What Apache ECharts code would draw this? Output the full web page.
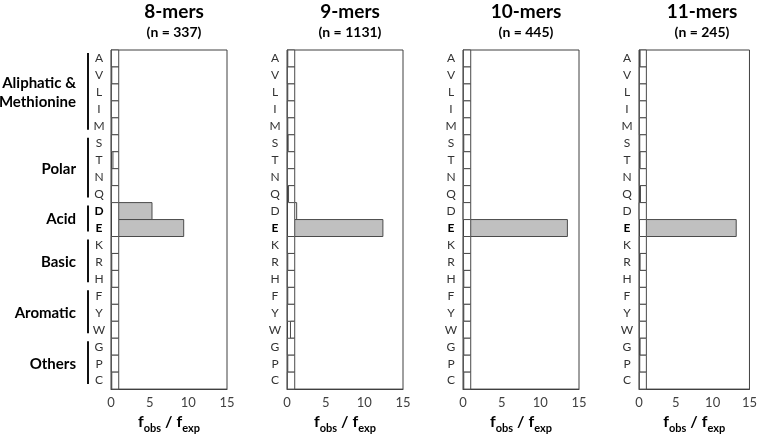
<!DOCTYPE html>
<html>
<head>
<meta charset="utf-8">
<script src="https://cdn.jsdelivr.net/npm/echarts@6/dist/echarts.min.js"></script>
<style>
html,body{margin:0;padding:0;background:#fff;}
#c{width:760px;height:439px;}
</style>
</head>
<body>
<div id="c"></div>
<script>
// ---- data ----
const residues = ['A','V','L','I','M','S','T','N','Q','D','E','K','R','H','F','Y','W','G','P','C'];
const panelTitles = ['8-mers','9-mers','10-mers','11-mers'];
const panelCounts = ['(n = 337)','(n = 1131)','(n = 445)','(n = 245)'];
const mer8  = [0.05,0.1,0.05,0.05,0.1,0.05,0.25,0.1,0.05,5.3,9.4,0.05,0.1,0.1,0.05,0.05,0.05,0.05,0.05,0.1];
const mer9  = [0.1,0.05,0.1,0.05,0.1,0.15,0.05,0.05,0.2,1.25,12.4,0.05,0.1,0.05,0.1,0.05,0.45,0.05,0.1,0.05];
const mer10 = [0.05,0.05,0.05,0.05,0.05,0.1,0.05,0.05,0.05,0.02,13.5,0.05,0.05,0.1,0.05,0.1,0.05,0.1,0.05,0.1];
const mer11 = [0.15,0.05,0.05,0.05,0.05,0.1,0.15,0.05,0.2,0.02,13.2,0.05,0.15,0.05,0.05,0.05,0.05,0.15,0.1,0.05];
const sig8  = ['D','E'];
const sig9  = ['E'];
const sig10 = ['E'];
const sig11 = ['E'];
const groups = [
  {label:['Aliphatic &','Methionine'], from:'A', to:'M'},
  {label:['Polar'], from:'S', to:'Q'},
  {label:['Acid'], from:'D', to:'E'},
  {label:['Basic'], from:'K', to:'H'},
  {label:['Aromatic'], from:'F', to:'W'},
  {label:['Others'], from:'G', to:'C'}
];
const xTicks = [0,5,10,15];
const baseline = 1;

const FONT = 'Lato, "Open Sans", sans-serif';
const panels = [mer8, mer9, mer10, mer11];
const sigs = [sig8, sig9, sig10, sig11];
const lefts = [111, 287, 463, 639];
const gridW = 116, gridTop = 50, gridH = 347;

const chart = echarts.init(document.getElementById('c'), null, {renderer:'canvas'});

const option = {
  backgroundColor:'#fff',
  animation:false,
  title:[],
  grid:[], xAxis:[], yAxis:[], series:[]
};

panels.forEach((vals, k) => {
  const cx = lefts[k] + gridW/2;
  option.title.push({text:panelTitles[k], left:cx, top:-3, textAlign:'center',
    textStyle:{fontFamily:FONT, fontSize:19, fontWeight:'bold', color:'#000'}});
  option.title.push({text:panelCounts[k], left:cx, top:20, textAlign:'center',
    textStyle:{fontFamily:FONT, fontSize:14, fontWeight:'bold', color:'#000'}});
  option.grid.push({left:lefts[k], top:gridTop, width:gridW, height:gridH,
    show:true, borderColor:'#404040', borderWidth:1, backgroundColor:'#fff'});
  option.xAxis.push({type:'value', gridIndex:k, min:xTicks[0], max:xTicks[xTicks.length-1], interval:5,
    splitLine:{show:false},
    axisLine:{show:true, lineStyle:{color:'#404040'}},
    axisTick:{show:false},
    axisLabel:{fontFamily:FONT, fontSize:13, color:'#404040', margin:7},
    name:'{f|f}{s|obs}{f| / f}{s|exp}', nameLocation:'middle', nameGap:20,
    nameTextStyle:{rich:{
      f:{fontFamily:FONT, fontSize:16, fontWeight:'bold', color:'#000', lineHeight:18, verticalAlign:'bottom'},
      s:{fontFamily:FONT, fontSize:11, fontWeight:'bold', color:'#000', lineHeight:10, verticalAlign:'bottom', padding:[0,0,-4,0]}
    }}
  });
  const sig = sigs[k];
  option.yAxis.push({type:'category', gridIndex:k, data:residues, inverse:true,
    axisLine:{show:true, lineStyle:{color:'#404040'}},
    axisTick:{show:false},
    axisLabel:{margin:12, align:'center', fontFamily:FONT, fontSize:12, color:'#333',
      formatter:(v)=> sig.indexOf(v) >= 0 ? '{b|'+v+'}' : v,
      rich:{b:{fontFamily:FONT, fontSize:12, fontWeight:'bold', color:'#000'}}}
  });
  option.series.push({
    type:'custom', xAxisIndex:k, yAxisIndex:k,
    dimensions:['res','ratio','sig'],
    encode:{x:1, y:0},
    data: vals.map((v,i)=>[i, v, sig.indexOf(residues[i])>=0 ? 1 : 0]),
    renderItem:(params, api)=>{
      const c = api.value(0), v = api.value(1);
      const lo = Math.min(v, baseline), hi = Math.max(v, baseline);
      const p0 = api.coord([lo, c]);
      const p1 = api.coord([hi, c]);
      const h = api.size([0,1])[1];
      return {type:'rect',
        shape:{x:p0[0], y:p0[1]-h/2, width:p1[0]-p0[0], height:h},
        style:{fill: api.value(2) ? '#c0c0c0' : '#fff', stroke:'#4a4a4a', lineWidth:1}};
    }
  });
});

chart.setOption(option);

// group labels and brackets, positioned from the first panel's category axis
const graphics = [];
const yOf = (r)=> chart.convertToPixel({yAxisIndex:0}, r);
const band = yOf(residues[1]) - yOf(residues[0]);
groups.forEach(g=>{
  const y0 = yOf(g.from) - band/2 + 3;
  const y1 = yOf(g.to) + band/2 - 5;
  graphics.push({type:'line', shape:{x1:88, y1:y0, x2:88, y2:y1}, style:{stroke:'#111', lineWidth:2}});
  const yc = (yOf(g.from) + yOf(g.to))/2;
  const n = g.label.length;
  g.label.forEach((t,i)=>{
    graphics.push({type:'text', x:76, y: yc + (i - (n-1)/2)*19,
      style:{text:t, fontFamily:FONT, fontSize:15, fontWeight:'bold', fill:'#000', align:'right', verticalAlign:'middle'}});
  });
});
chart.setOption({graphic:graphics});
</script>
</body>
</html>
